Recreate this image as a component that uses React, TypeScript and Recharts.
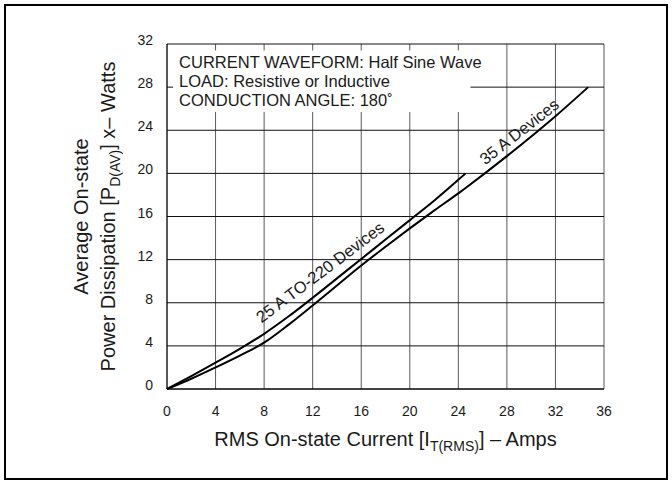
import React from "react";
import {
  LineChart,
  Line,
  XAxis,
  YAxis,
  CartesianGrid,
  ReferenceArea,
  ReferenceDot,
} from "recharts";

const currentAmps = [0, 2, 4, 6, 8, 10, 12, 14, 16, 18, 20, 22, 24, 24.6, 28, 32, 34.7];
// 25 A TO-220 devices (curve stops at 20 W)
const to220Watts = [
  0, 1.2, 2.44, 3.72, 5.12, 6.72, 8.46, 10.26, 12.06, 13.86, 15.66, 17.46, 19.4, 20,
  null, null, null,
];
// 35 A devices
const a35Watts = [
  0, 0.95, 2.0, 3.1, 4.3, 5.95, 7.75, 9.6, 11.45, 13.2, 14.9, 16.55, 18.15, 18.65,
  21.6, 25.3, 28,
];

const xTicks = [0, 4, 8, 12, 16, 20, 24, 28, 32, 36];
const yTicks = [0, 4, 8, 12, 16, 20, 24, 28, 32];

const noteLines = [
  "CURRENT WAVEFORM: Half Sine Wave",
  "LOAD: Resistive or Inductive",
  "CONDUCTION ANGLE: 180˚",
];

const data = currentAmps.map((amps, i) => ({
  amps,
  to220: to220Watts[i],
  a35: a35Watts[i],
}));

const FONT = "'Liberation Sans', Arial, sans-serif";
const INK = "#1a1a1a";

const XTick = ({ x, y, payload }: any) => (
  <text x={x} y={y + 10} textAnchor="middle" fontSize={14} fill={INK} fontFamily={FONT}>
    {payload.value}
  </text>
);

const YTick = ({ x, y, payload }: any) => (
  <text x={x} y={y + 1} textAnchor="end" fontSize={14} fill={INK} fontFamily={FONT}>
    {payload.value}
  </text>
);

const XLabel = ({ viewBox }: any) => {
  const cx = viewBox.x + viewBox.width / 2;
  const base = viewBox.y + 57;
  return (
    <text x={cx} y={base} textAnchor="middle" fontSize={20} fill={INK} fontFamily={FONT}>
      RMS On-state Current [I
      <tspan dy={5} fontSize={14}>T(RMS)</tspan>
      <tspan dy={-5} fontSize={20}>] – Amps</tspan>
    </text>
  );
};

const YLabel = ({ viewBox }: any) => {
  const cy = viewBox.y + viewBox.height / 2;
  const x1 = 88;
  const x2 = 115;
  return (
    <g fontFamily={FONT} fill={INK} fontSize={20}>
      <text x={x1} y={cy} textAnchor="middle" transform={`rotate(-90, ${x1}, ${cy})`}>
        Average On-state
      </text>
      <text x={x2} y={cy} textAnchor="middle" transform={`rotate(-90, ${x2}, ${cy})`}>
        Power Dissipation [P
        <tspan dy={5} fontSize={14}>D(AV)</tspan>
        <tspan dy={-5} fontSize={20}>] x– Watts</tspan>
      </text>
    </g>
  );
};

const Note = ({ viewBox }: any) => (
  <g fontFamily={FONT} fill={INK} fontSize={16.5}>
    {noteLines.map((line, i) => (
      <text key={i} x={viewBox.x + 6} y={viewBox.y + 18 + i * 19}>
        {line}
      </text>
    ))}
  </g>
);

const curveTag = (text: string, angle: number) => (p: any) => (
  <text
    x={p.cx}
    y={p.cy}
    textAnchor="middle"
    dominantBaseline="central"
    fontSize={16.5}
    fill={INK}
    fontFamily={FONT}
    transform={`rotate(${angle}, ${p.cx}, ${p.cy})`}
  >
    {text}
  </text>
);

export default function App() {
  return (
    <div
      style={{
        position: "absolute",
        left: 0,
        top: 0,
        width: 672,
        height: 483,
        background: "#fff",
        fontFamily: FONT,
      }}
    >
      <div
        style={{
          position: "absolute",
          left: 4,
          top: 4,
          width: 664,
          height: 476,
          border: "2px solid #000",
          boxSizing: "border-box",
        }}
      />
      <div style={{ position: "absolute", left: 0, top: 0 }}>
        <LineChart
          width={672}
          height={483}
          data={data}
          margin={{ top: 44, right: 68, bottom: 64, left: 0 }}
        >
          <CartesianGrid stroke="#5a5a5a" strokeWidth={1} horizontal={false} />
          <CartesianGrid stroke="#111" strokeWidth={1} vertical={false} />
          <XAxis
            dataKey="amps"
            type="number"
            domain={[0, 36]}
            ticks={xTicks}
            height={30}
            tickLine={false}
            tickSize={0}
            tickMargin={17}
            axisLine={{ stroke: "#000" }}
            tick={<XTick />}
            label={<XLabel />}
          />
          <YAxis
            type="number"
            domain={[0, 32]}
            ticks={yTicks}
            width={167}
            tickLine={false}
            tickSize={0}
            tickMargin={14}
            axisLine={{ stroke: "#000" }}
            tick={<YTick />}
            label={<YLabel />}
          />
          <ReferenceArea
            x1={0.5}
            x2={25}
            y1={25.7}
            y2={31.4}
            fill="#fff"
            fillOpacity={1}
            stroke="none"
            label={<Note />}
          />
          <Line
            dataKey="to220"
            type="monotone"
            stroke="#000"
            strokeWidth={2}
            dot={false}
            isAnimationActive={false}
          />
          <Line
            dataKey="a35"
            type="monotone"
            stroke="#000"
            strokeWidth={2}
            dot={false}
            isAnimationActive={false}
          />
          <ReferenceDot x={12.6} y={10.85} r={0} shape={curveTag("25 A TO-220 Devices", -37)} />
          <ReferenceDot x={29} y={23.9} r={0} shape={curveTag("35 A Devices", -38)} />
        </LineChart>
      </div>
    </div>
  );
}
